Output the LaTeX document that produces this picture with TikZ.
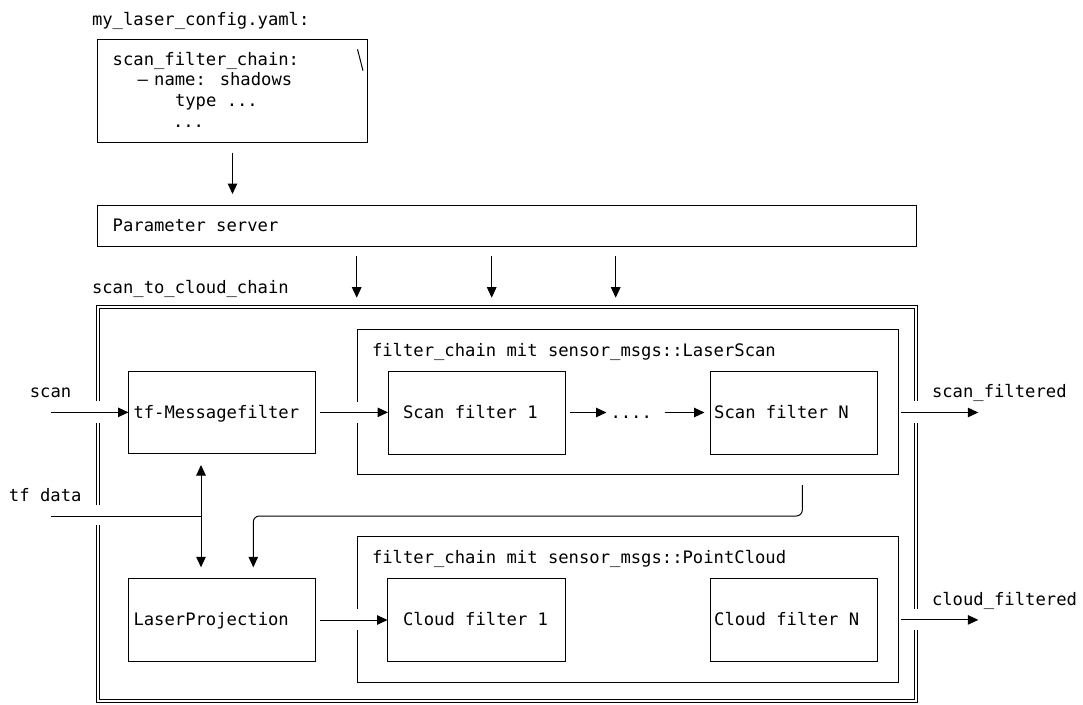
\documentclass[tikz,border=0pt]{standalone}
\usepackage{fontspec}
\setmainfont{DejaVu Sans Mono}
\usetikzlibrary{arrows.meta}
\begin{document}
\begin{tikzpicture}[x=1pt,y=-1pt,line width=1pt,
  every node/.style={inner sep=0pt,outer sep=0pt},
  txt/.style={anchor=base west,font=\fontsize{17.2}{20.8}\selectfont},
  box/.style={draw,line width=1pt},
  frame/.style={draw=none},
  arr/.style={-{Triangle[length=10.5pt,width=9.5pt]},line width=1pt},
  arrboth/.style={{Triangle[length=10.5pt,width=9.5pt]}-{Triangle[length=10.5pt,width=9.5pt]},line width=1pt},
  dbl/.style={draw,line width=0.9pt}]
\fill[white] (0,0) rectangle (1083,704);
\useasboundingbox (0,0) rectangle (1083,704);

% boxes
\node[box,minimum width=270.4pt,minimum height=103pt] (yaml) at (232.5,90.5) {};
\node[box,minimum width=818.7pt,minimum height=41.5pt] (param) at (506.65,225.75) {};
\node[frame,minimum width=818.5pt,minimum height=393.3pt] (outer) at (506.75,503.85) {};
\node[frame,minimum width=541pt,minimum height=144.5pt] (sc) at (627.5,401.75) {};
\node[frame,minimum width=541pt,minimum height=145.3pt] (cc) at (627.5,609.35) {};
\node[box,minimum width=186.8pt,minimum height=82.7pt] (tf) at (221.9,412.35) {};
\node[box,minimum width=186.8pt,minimum height=83.4pt] (lp) at (221.9,620) {};
\node[box,minimum width=177.5pt,minimum height=83pt] (sf1) at (476.75,412.5) {};
\node[box,minimum width=166.5pt,minimum height=83pt] (sfN) at (793.75,412.5) {};
\node[box,minimum width=178pt,minimum height=83.2pt] (cf1) at (476.5,619.9) {};
\node[box,minimum width=166.5pt,minimum height=83.2pt] (cfN) at (793.75,619.9) {};

% container outlines with openings
\draw (357,401.5) -- (357,329.5) -- (898,329.5) -- (898,474) -- (357,474) -- (357,423.3);
\draw (357,609) -- (357,536.7) -- (898,536.7) -- (898,682) -- (357,682) -- (357,630);
% outer double frame: outer line
\draw[dbl] (96,401) -- (96,305.7) -- (917.5,305.7) -- (917.5,401);
\draw[dbl] (917.5,423) -- (917.5,609);
\draw[dbl] (917.5,630) -- (917.5,702) -- (96,702) -- (96,525);
\draw[dbl] (96,505) -- (96,423);
% outer double frame: inner line
\draw[dbl] (99,401) -- (99,308.7) -- (914.5,308.7) -- (914.5,401);
\draw[dbl] (914.5,423) -- (914.5,609);
\draw[dbl] (914.5,630) -- (914.5,699) -- (99,699) -- (99,525);
\draw[dbl] (99,505) -- (99,423);

% corner stroke in yaml box
\draw (357.5,49.3) -- (363,70.7);

% texts
\node[txt] (t0) at (92,25) {my\_laser\_config.yaml:};
\node[txt] (y1) at (112.7,65) {scan\_filter\_chain:};
\node[txt] (y2) at (137.5,85.9) {\makebox[16.7pt][l]{–}name: shadows};
\node[txt] (y3) at (175,106.8) {type ...};
\node[txt] (y4) at (173,127.7) {...};
\node[txt] (pstext) at (112.7,231.7) {Parameter server};
\node[txt] (chainlbl) at (92,293.3) {scan\_to\_cloud\_chain};
\node[txt] (scanlbl) at (29.8,397.3) {scan};
\node[txt] (tftext) at (133.5,418) {tf-Messagefilter};
\node[txt] (sclbl) at (372,356) {filter\_chain mit sensor\_msgs::LaserScan};
\node[txt] (sf1t) at (403.1,418) {Scan filter 1};
\node[txt] (dots) at (610.5,418) {....};
\node[txt] (sfNt) at (714.2,418) {Scan filter N};
\node[txt] (sfo) at (932,397) {scan\_filtered};
\node[txt] (tfd) at (9,501) {tf data};
\node[txt] (cclbl) at (372,563) {filter\_chain mit sensor\_msgs::PointCloud};
\node[txt] (lpt) at (133.5,625.3) {LaserProjection};
\node[txt] (cf1t) at (403.1,625) {Cloud filter 1};
\node[txt] (cfNt) at (714.2,625) {Cloud filter N};
\node[txt] (cfo) at (932,605) {cloud\_filtered};

% free ends and bends
\coordinate (scanin) at (50.7,412.35);
\coordinate (tfin) at (50.7,516);
\coordinate (vx) at (201,0);
\coordinate (bend1) at (802.3,516);
\coordinate (bend2) at (253.3,516);
\coordinate (sfend) at (978.3,412.5);
\coordinate (cfend) at (978.3,619.9);
\coordinate (p1) at (356.7,0);
\coordinate (p2) at (491.7,0);
\coordinate (p3) at (615.7,0);

% connectors
\draw[arr,shorten <=10.7pt,shorten >=11pt] (yaml.south) -- (yaml.south |- param.north);
\foreach \p in {p1,p2,p3}
  \draw[arr,shorten <=9.5pt,shorten >=9.5pt] (param.south -| \p) -- (\p |- outer.north);
\draw[arr] (scanin) -- (tf.west);
\draw[arr,shorten <=4.7pt] (tf.east) -- (tf.east -| sf1.west);
\draw[arr,shorten <=4.5pt,shorten >=4pt] (sf1.east) -- (sf1.east -| dots.west);
\draw[arr,shorten <=12.6pt,shorten >=6pt] (sf1.east -| dots.east) -- (sfN.west);
\draw[arr,shorten <=24pt] (sfN.east) -- (sfend);
\draw[rounded corners=3pt] (tfin) -- (tfin -| vx);
\draw[arrboth,shorten <=11.3pt,shorten >=11pt] (tf.south -| vx) -- (lp.north -| vx);
\draw[arr,rounded corners=6pt,shorten <=11pt,shorten >=11pt] (sc.south -| bend1) -- (bend1) -- (bend2) -- (bend2 |- lp.north);
\draw[arr,shorten <=4.7pt] (lp.east) -- (lp.east -| cf1.west);
\draw[arr,shorten <=24pt] (cfN.east) -- (cfend);
\end{tikzpicture}
\end{document}
